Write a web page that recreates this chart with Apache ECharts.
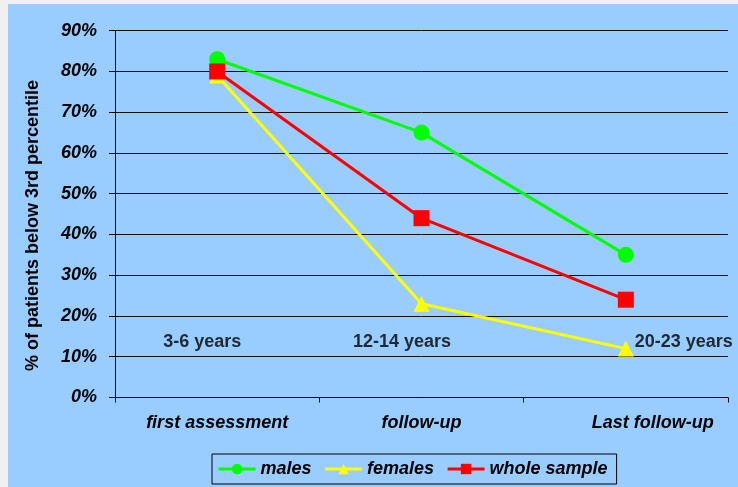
<!DOCTYPE html>
<html><head><meta charset="utf-8">
<script src="https://cdn.jsdelivr.net/npm/echarts@6/dist/echarts.min.js"></script>
<style>
html,body{margin:0;padding:0;background:#f0f0f0;width:738px;height:487px;overflow:hidden}
#c{position:absolute;left:8px;top:4px;width:730px;height:483px;background:#99CCFF}
</style></head><body><div id="c"></div>
<script>
// ---- data ----
const categories = ['first assessment', 'follow-up', 'Last follow-up'];
const ageLabels = ['3-6 years', '12-14 years', '20-23 years'];
const males = [83, 65, 35];
const females = [79, 23, 12];
const wholeSample = [80, 44, 24];
const seriesNames = ['males', 'females', 'whole sample'];
const yAxisTitle = '% of patients below 3rd percentile';
const yMin = 0, yMax = 90, yStep = 10;

// ---- styling ----
const FONT = "'Liberation Sans', Arial, sans-serif";
const ageLabelLevel = 13.6;
const ageOffsets = [-15, -19.5, 58];

const chart = echarts.init(document.getElementById('c'), null, {renderer: 'canvas'});

function lineSeries(name, data, color, symbol) {
  return {
    name, type: 'line', data,
    symbol, symbolSize: 16, showSymbol: true,
    lineStyle: {color, width: 3},
    itemStyle: {color, borderWidth: 0},
    emphasis: {disabled: true},
    animation: false
  };
}

const ageLabelStyle = {color: '#000', fontSize: 18, fontWeight: 'bold', fontFamily: FONT, textBorderWidth: 0};

chart.setOption({
  backgroundColor: 'transparent',
  animation: false,
  grid: {left: 107, right: 10, top: 26.7, bottom: 89.5, containLabel: false},
  xAxis: {
    type: 'category',
    data: categories,
    boundaryGap: true,
    axisLine: {lineStyle: {color: '#000', width: 1}},
    axisTick: {show: true, length: 5, inside: false, alignWithLabel: false, lineStyle: {color: '#000'}},
    splitLine: {show: false},
    axisLabel: {
      margin: 17,
      color: '#000',
      fontSize: 18, fontWeight: 'bold', fontStyle: 'italic', fontFamily: FONT,
      interval: 0,
      formatter: function (v, i) { return i === 2 ? '{s|' + v + '}' : v; },
      rich: {s: {padding: [0, 0, 0, 54], fontSize: 18, fontWeight: 'bold', fontStyle: 'italic', fontFamily: FONT, color: '#000'}}
    }
  },
  yAxis: {
    type: 'value',
    min: yMin, max: yMax, interval: yStep,
    axisLine: {show: true, lineStyle: {color: '#000', width: 1}},
    axisTick: {show: true, length: 6, lineStyle: {color: '#000'}},
    splitLine: {show: true, lineStyle: {color: '#111', width: 1}},
    axisLabel: {
      margin: 18, color: '#000',
      fontSize: 18, fontWeight: 'bold', fontStyle: 'italic', fontFamily: FONT,
      formatter: '{value}%'
    }
  },
  legend: {
    data: seriesNames,
    left: 204, top: 450,
    orient: 'horizontal',
    padding: [6, 9, 6, 5],
    itemGap: 12,
    itemWidth: 37, itemHeight: 13,
    borderColor: '#000', borderWidth: 1,
    backgroundColor: 'transparent',
    selectedMode: false,
    lineStyle: {width: 3},
    textStyle: {color: '#000', fontSize: 18, fontWeight: 'bold', fontStyle: 'italic', fontFamily: FONT}
  },
  graphic: [{
    type: 'text',
    x: 25.5, y: 221.5,
    rotation: Math.PI / 2,
    style: {
      text: yAxisTitle, fill: '#000',
      fontSize: 18, fontWeight: 'bold', fontFamily: FONT,
      align: 'center', verticalAlign: 'middle'
    }
  }],
  series: [
    lineSeries(seriesNames[0], males, '#00FF00', 'circle'),
    lineSeries(seriesNames[1], females, '#FFFF00', 'triangle'),
    lineSeries(seriesNames[2], wholeSample, '#FF0000', 'rect'),
    {
      name: 'ages', type: 'scatter', symbolSize: 0, silent: true, z: 1,
      data: ageLabels.map((t, i) => ({
        value: [i, ageLabelLevel],
        label: Object.assign({show: true, position: 'inside', formatter: t, offset: [ageOffsets[i], 0]}, ageLabelStyle)
      })),
      label: ageLabelStyle,
      animation: false
    }
  ]
});
</script></body></html>
